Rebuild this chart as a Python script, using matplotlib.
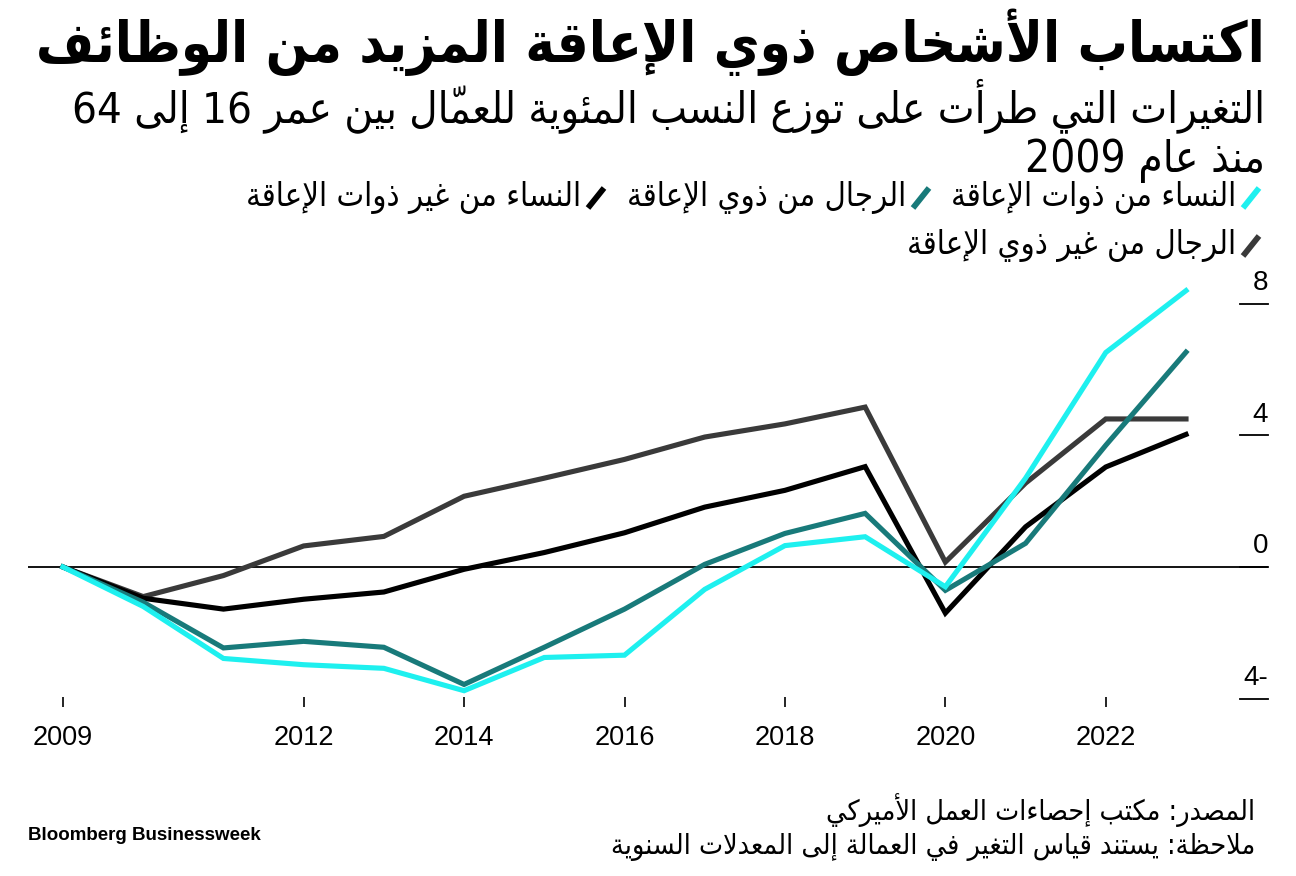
import matplotlib
matplotlib.use("Agg")
import matplotlib.pyplot as plt
from matplotlib.lines import Line2D
from matplotlib.transforms import blended_transform_factory

# =========================
# DATA
# =========================
years = list(range(2009, 2024))
women_dis = [0, -1.2, -2.78, -2.97, -3.08, -3.76, -2.75, -2.68, -0.68, 0.65, 0.92, -0.6, 2.7, 6.52, 8.4]
men_dis = [0, -1.07, -2.46, -2.26, -2.44, -3.57, -2.44, -1.28, 0.08, 1.02, 1.63, -0.71, 0.72, 3.7, 6.53]
women_nodis = [0, -0.95, -1.28, -0.98, -0.76, -0.07, 0.44, 1.04, 1.82, 2.33, 3.05, -1.4, 1.22, 3.04, 4.03]
men_nodis = [0, -0.9, -0.26, 0.64, 0.93, 2.15, 2.7, 3.27, 3.95, 4.35, 4.86, 0.15, 2.55, 4.5, 4.5]

xticks = [2009, 2012, 2014, 2016, 2018, 2020, 2022]
yticks = [8, 4, 0, -4]
ytick_labels = ["8", "4", "0", "4-"]

title = "اكتساب الأشخاص ذوي الإعاقة المزيد من الوظائف"
subtitle1 = "التغيرات التي طرأت على توزع النسب المئوية للعمّال بين عمر 16 إلى 64"
subtitle2 = "منذ عام 2009"
labels = ["النساء من ذوات الإعاقة", "الرجال من ذوي الإعاقة",
          "النساء من غير ذوات الإعاقة", "الرجال من غير ذوي الإعاقة"]
source = "المصدر: مكتب إحصاءات العمل الأميركي"
note = "ملاحظة: يستند قياس التغير في العمالة إلى المعدلات السنوية"

CYAN = "#1ef0ef"
TEAL = "#187a7a"
BLACK = "#000000"
GRAY = "#3a3a3a"

# =========================
# ARABIC SHAPING (matplotlib has no RTL layout)
# =========================
FORMS = {
    "ء": (0xFE80,), "آ": (0xFE81, 0xFE82), "أ": (0xFE83, 0xFE84),
    "ؤ": (0xFE85, 0xFE86), "إ": (0xFE87, 0xFE88), "ئ": (0xFE89, 0xFE8A, 0xFE8B, 0xFE8C),
    "ا": (0xFE8D, 0xFE8E), "ب": (0xFE8F, 0xFE90, 0xFE91, 0xFE92), "ة": (0xFE93, 0xFE94),
    "ت": (0xFE95, 0xFE96, 0xFE97, 0xFE98), "ث": (0xFE99, 0xFE9A, 0xFE9B, 0xFE9C),
    "ج": (0xFE9D, 0xFE9E, 0xFE9F, 0xFEA0), "ح": (0xFEA1, 0xFEA2, 0xFEA3, 0xFEA4),
    "خ": (0xFEA5, 0xFEA6, 0xFEA7, 0xFEA8), "د": (0xFEA9, 0xFEAA), "ذ": (0xFEAB, 0xFEAC),
    "ر": (0xFEAD, 0xFEAE), "ز": (0xFEAF, 0xFEB0), "س": (0xFEB1, 0xFEB2, 0xFEB3, 0xFEB4),
    "ش": (0xFEB5, 0xFEB6, 0xFEB7, 0xFEB8), "ص": (0xFEB9, 0xFEBA, 0xFEBB, 0xFEBC),
    "ض": (0xFEBD, 0xFEBE, 0xFEBF, 0xFEC0), "ط": (0xFEC1, 0xFEC2, 0xFEC3, 0xFEC4),
    "ظ": (0xFEC5, 0xFEC6, 0xFEC7, 0xFEC8), "ع": (0xFEC9, 0xFECA, 0xFECB, 0xFECC),
    "غ": (0xFECD, 0xFECE, 0xFECF, 0xFED0), "ف": (0xFED1, 0xFED2, 0xFED3, 0xFED4),
    "ق": (0xFED5, 0xFED6, 0xFED7, 0xFED8), "ك": (0xFED9, 0xFEDA, 0xFEDB, 0xFEDC),
    "ل": (0xFEDD, 0xFEDE, 0xFEDF, 0xFEE0), "م": (0xFEE1, 0xFEE2, 0xFEE3, 0xFEE4),
    "ن": (0xFEE5, 0xFEE6, 0xFEE7, 0xFEE8), "ه": (0xFEE9, 0xFEEA, 0xFEEB, 0xFEEC),
    "و": (0xFEED, 0xFEEE), "ى": (0xFEEF, 0xFEF0), "ي": (0xFEF1, 0xFEF2, 0xFEF3, 0xFEF4),
    "لآ": (0xFEF5, 0xFEF6), "لأ": (0xFEF7, 0xFEF8), "لإ": (0xFEF9, 0xFEFA), "لا": (0xFEFB, 0xFEFC),
}
MARKS = set(chr(c) for c in range(0x064B, 0x0653))


def ar(text):
    # group letters with their marks, merge lam-alef
    items = []
    for ch in text:
        if ch in MARKS and items:
            items[-1][1].append(ch)
        elif items and items[-1][0] == "ل" and not items[-1][1] and ch in "اأإآ":
            items[-1][0] = "ل" + ch
        else:
            items.append([ch, []])

    shaped = []
    for k, (base, marks) in enumerate(items):
        forms = FORMS.get(base)
        if forms is None:
            shaped.append((base, "".join(marks)))
            continue
        prev = items[k - 1][0] if k > 0 else None
        nxt = items[k + 1][0] if k + 1 < len(items) else None
        con_prev = prev in FORMS and len(FORMS[prev]) == 4
        con_next = len(forms) == 4 and nxt in FORMS and len(FORMS[nxt]) >= 2
        if len(forms) == 1:
            g = forms[0]
        elif len(forms) == 2:
            g = forms[1] if con_prev else forms[0]
        else:
            g = forms[[[0, 2], [1, 3]][con_prev][con_next]]
        shaped.append((chr(g), "".join(marks)))

    # visual order: reverse, but keep digit runs left-to-right
    runs = []
    for base, marks in shaped:
        ltr = base.isdigit() or base.isascii() and base.isalpha()
        if runs and runs[-1][0] == ltr:
            runs[-1][1].append(marks + base)
        else:
            runs.append([ltr, [marks + base]])
    out = ""
    for ltr, cl in reversed(runs):
        out += "".join(cl if ltr else reversed(cl))
    return out


# =========================
# FIGURE
# =========================
W, H = 1296, 876
fig = plt.figure(figsize=(W / 100, H / 100), dpi=100)
fig.patch.set_facecolor("white")
renderer = fig.canvas.get_renderer()

AR = dict(fontfamily=["DejaVu Sans"], fontstretch="condensed")
NUM_FONT = ["Liberation Sans", "DejaVu Sans"]


def fx(px):
    return px / W


def fy(py):
    return 1 - py / H


def fit_text(x, y, s, width_px, **kw):
    t = fig.text(x, y, s, **kw)
    w = t.get_window_extent(renderer).width
    t.set_fontsize(t.get_fontsize() * width_px / w)
    return t


# plot area: x from 28px to 1268px, y from 280px to 697px
left_px, right_px, top_px, bot_px = 28, 1268, 280, 697
px_per_year = (1186 - 63) / 14
px_per_unit = 32.9
ax = fig.add_axes([fx(left_px), fy(bot_px), fx(right_px - left_px), (bot_px - top_px) / H])
ax.set_xlim(2009 - (63 - left_px) / px_per_year, 2023 + (right_px - 1186) / px_per_year)
ax.set_ylim(-(bot_px - 567) / px_per_unit, (567 - top_px) / px_per_unit)
for sp in ax.spines.values():
    sp.set_visible(False)
ax.patch.set_alpha(0)

ax.axhline(0, color="black", lw=1.3, zorder=1)

lw = 3.7
ax.plot(years, men_nodis, color=GRAY, lw=lw, solid_joinstyle="miter", zorder=2)
ax.plot(years, women_nodis, color=BLACK, lw=lw, solid_joinstyle="miter", zorder=3)
ax.plot(years, men_dis, color=TEAL, lw=lw, solid_joinstyle="miter", zorder=4)
ax.plot(years, women_dis, color=CYAN, lw=lw, solid_joinstyle="miter", zorder=5)

# x ticks
ax.set_xticks(xticks)
ax.set_xticklabels([str(y) for y in xticks], fontfamily=NUM_FONT, fontsize=19.5)
ax.tick_params(axis="x", direction="out", length=7, width=1.2, color="black", pad=13)
ax.set_yticks([])

# y ticks on the right: short dashes with labels above
tr = blended_transform_factory(ax.transAxes, ax.transData)
dash_x0 = (1240 - left_px) / (right_px - left_px)
for v, lab in zip(yticks, ytick_labels):
    ax.plot([dash_x0, 1.0], [v, v], transform=tr, color="black", lw=1.3, clip_on=False)
    ax.annotate(lab, xy=(1.0, v), xycoords=tr, xytext=(0, 10), textcoords="offset points",
                ha="right", va="baseline", fontsize=20, fontfamily=NUM_FONT)

# =========================
# TITLES
# =========================
fit_text(fx(1265), fy(62), ar(title), 1230, ha="right", va="baseline",
         fontsize=34, fontweight="bold", **AR)
fit_text(fx(1265), fy(122), ar(subtitle1), 1190, ha="right", va="baseline",
         fontsize=28, **AR)
fit_text(fx(1265), fy(172), ar(subtitle2), 240, ha="right", va="baseline",
         fontsize=28, **AR)

# =========================
# LEGEND
# =========================
legend_items = [
    (CYAN, labels[0], 1243, 208),
    (TEAL, labels[1], 913, 208),
    (BLACK, labels[2], 588, 208),
    (GRAY, labels[3], 1243, 256),
]
for color, lab, sx, sy in legend_items:
    fig.add_artist(Line2D([fx(sx), fx(sx + 16)], [fy(sy), fy(sy - 20)], color=color, lw=4.2,
                          transform=fig.transFigure, solid_capstyle="butt"))
    fig.text(fx(sx - 7), fy(sy - 2), ar(lab), ha="right", va="baseline",
             fontsize=23.5, **AR)

# =========================
# FOOTER
# =========================
fig.text(fx(28), fy(840), "Bloomberg Businessweek", ha="left", va="baseline",
         fontsize=13.5, fontweight="bold", fontfamily=NUM_FONT)
fig.text(fx(1255), fy(820), ar(source), ha="right", va="baseline",
         fontsize=20.5, **AR)
fig.text(fx(1255), fy(854), ar(note), ha="right", va="baseline",
         fontsize=20.5, **AR)

fig.savefig("out.png", dpi=100, facecolor="white")
